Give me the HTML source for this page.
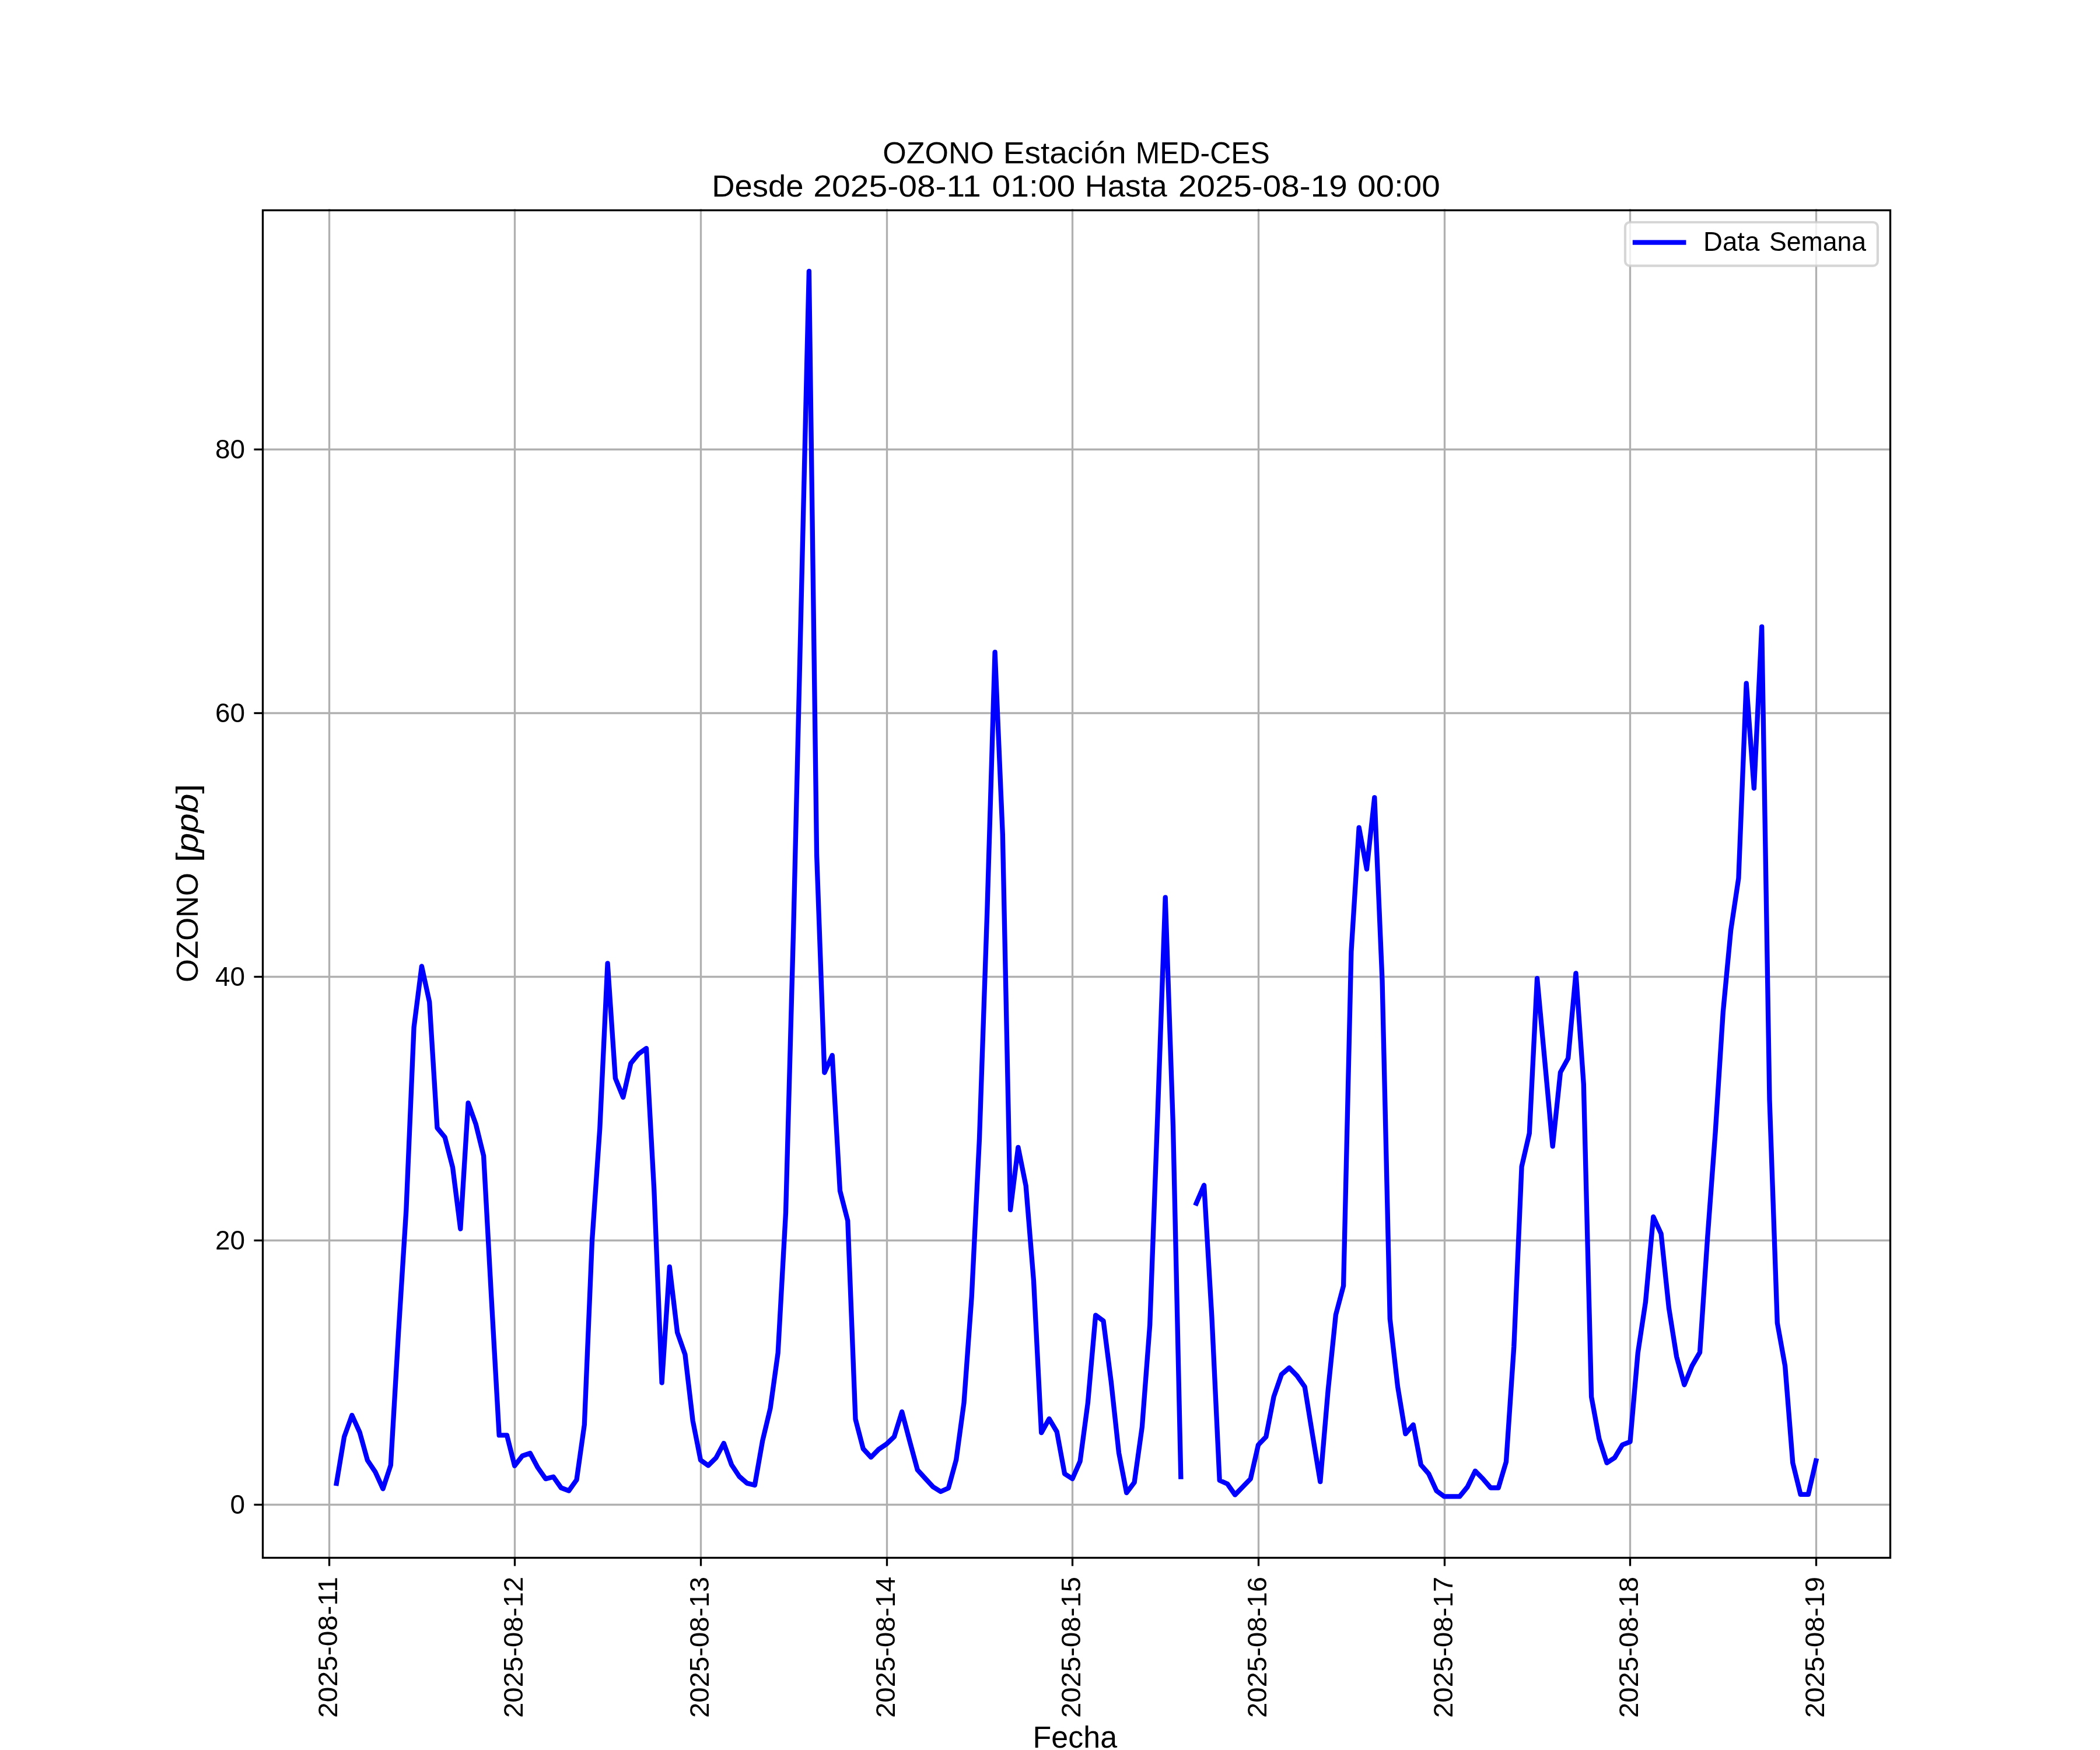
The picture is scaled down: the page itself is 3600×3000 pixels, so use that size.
<!DOCTYPE html>
<html><head><meta charset="utf-8"><style>
html,body{margin:0;padding:0;background:#fff;}
body{width:3600px;height:3000px;overflow:hidden;}
svg{display:block;will-change:transform;}
.g{stroke:#b0b0b0;stroke-width:3.333;stroke-linecap:square;}
.t{stroke:#000;stroke-width:3.333;stroke-linecap:butt;}
.fr{fill:none;stroke:#000;stroke-width:3.333;stroke-linejoin:miter;}
.ln{fill:none;stroke:#0000ff;stroke-width:8.333;stroke-linejoin:round;stroke-linecap:square;}
.lnl{stroke:#0000ff;stroke-width:8.333;stroke-linecap:square;}
.lg{fill:#ffffff;fill-opacity:0.8;stroke:#cccccc;stroke-opacity:0.8;stroke-width:4.167;}
text{font-family:"Liberation Sans",sans-serif;fill:#000;}
.tk{font-size:46.5px;}
.tl{font-size:51px;}
</style></head><body>
<svg width="3600" height="3000" viewBox="0 0 3600 3000">
<rect x="0" y="0" width="3600" height="3000" fill="#fff"/>
<line x1="564.50" y1="360" x2="564.50" y2="2670" class="g"/>
<line x1="882.50" y1="360" x2="882.50" y2="2670" class="g"/>
<line x1="1201.50" y1="360" x2="1201.50" y2="2670" class="g"/>
<line x1="1520.50" y1="360" x2="1520.50" y2="2670" class="g"/>
<line x1="1838.50" y1="360" x2="1838.50" y2="2670" class="g"/>
<line x1="2157.50" y1="360" x2="2157.50" y2="2670" class="g"/>
<line x1="2476.50" y1="360" x2="2476.50" y2="2670" class="g"/>
<line x1="2794.50" y1="360" x2="2794.50" y2="2670" class="g"/>
<line x1="3113.50" y1="360" x2="3113.50" y2="2670" class="g"/>
<line x1="450" y1="2579.50" x2="3240" y2="2579.50" class="g"/>
<line x1="450" y1="2126.50" x2="3240" y2="2126.50" class="g"/>
<line x1="450" y1="1674.50" x2="3240" y2="1674.50" class="g"/>
<line x1="450" y1="1222.50" x2="3240" y2="1222.50" class="g"/>
<line x1="450" y1="770.50" x2="3240" y2="770.50" class="g"/>
<path d="M576.8 2543.0 L590.1 2463.1 L603.4 2426.1 L616.7 2455.5 L629.9 2503.2 L643.2 2523.1 L656.5 2552.2 L669.8 2511.8 L683.1 2285.0 L696.3 2075.0 L709.6 1761.1 L722.9 1656.5 L736.2 1717.6 L749.5 1933.5 L762.7 1949.7 L776.0 2001.1 L789.3 2106.6 L802.6 1890.7 L815.8 1927.4 L829.1 1981.5 L842.4 2224.8 L855.7 2460.4 L869.0 2460.4 L882.2 2512.8 L895.5 2495.7 L908.8 2491.2 L922.1 2516.2 L935.4 2535.1 L948.6 2531.7 L961.9 2550.5 L975.2 2555.6 L988.5 2536.8 L1001.8 2442.5 L1015.0 2127.1 L1028.3 1934.2 L1041.6 1651.4 L1054.9 1848.5 L1068.2 1881.1 L1081.4 1822.8 L1094.7 1806.7 L1108.0 1797.1 L1121.3 2040.0 L1134.6 2370.5 L1147.8 2171.7 L1161.1 2284.1 L1174.4 2321.8 L1187.7 2435.7 L1201.0 2503.0 L1214.2 2512.3 L1227.5 2499.1 L1240.8 2474.1 L1254.1 2511.0 L1267.3 2531.0 L1280.6 2542.6 L1293.9 2546.0 L1307.2 2470.0 L1320.5 2414.4 L1333.7 2319.1 L1347.0 2079.1 L1360.3 1590.0 L1373.6 1030.0 L1386.9 465.0 L1400.1 1466.0 L1413.4 1838.8 L1426.7 1809.1 L1440.0 2041.4 L1453.3 2092.8 L1466.5 2432.9 L1479.8 2483.7 L1493.1 2498.1 L1506.4 2484.5 L1519.7 2475.5 L1532.9 2463.0 L1546.2 2420.2 L1559.5 2470.6 L1572.8 2519.7 L1586.1 2534.4 L1599.3 2548.7 L1612.6 2557.0 L1625.9 2551.0 L1639.2 2502.5 L1652.5 2404.8 L1665.7 2223.1 L1679.0 1952.0 L1692.3 1562.0 L1705.6 1118.0 L1718.8 1430.0 L1732.1 2074.0 L1745.4 1966.8 L1758.7 2032.9 L1772.0 2195.7 L1785.2 2456.2 L1798.5 2432.2 L1811.8 2454.5 L1825.1 2526.5 L1838.4 2535.1 L1851.6 2505.0 L1864.9 2404.8 L1878.2 2254.7 L1891.5 2264.3 L1904.8 2368.8 L1918.0 2490.5 L1931.3 2559.1 L1944.6 2541.3 L1957.9 2446.0 L1971.2 2271.1 L1984.4 1914.0 L1997.7 1538.3 L2011.0 1930.0 L2024.3 2531.6 M2050.8 2062.7 L2064.1 2031.8 L2077.4 2257.4 L2090.7 2537.8 L2104.0 2543.7 L2117.2 2562.5 L2130.5 2548.8 L2143.8 2535.1 L2157.1 2476.8 L2170.3 2463.1 L2183.6 2394.5 L2196.9 2356.1 L2210.2 2344.8 L2223.5 2358.5 L2236.7 2377.4 L2250.0 2459.7 L2263.3 2540.2 L2276.6 2384.2 L2289.9 2254.0 L2303.1 2204.3 L2316.4 1631.4 L2329.7 1418.6 L2343.0 1490.0 L2356.3 1367.1 L2369.5 1680.0 L2382.8 2260.8 L2396.1 2377.4 L2409.4 2458.0 L2422.7 2442.5 L2435.9 2511.1 L2449.2 2526.5 L2462.5 2555.6 L2475.8 2565.3 L2489.1 2565.3 L2502.3 2565.3 L2515.6 2549.0 L2528.9 2521.7 L2542.2 2535.1 L2555.4 2550.5 L2568.7 2550.5 L2582.0 2505.9 L2595.3 2308.8 L2608.6 2000.0 L2621.8 1942.8 L2635.1 1677.1 L2648.4 1821.0 L2661.7 1965.1 L2675.0 1838.2 L2688.2 1814.2 L2701.5 1668.5 L2714.8 1858.8 L2728.1 2394.5 L2741.4 2466.5 L2754.6 2507.7 L2767.9 2499.1 L2781.2 2476.8 L2794.5 2471.7 L2807.8 2319.1 L2821.0 2231.7 L2834.3 2086.0 L2847.6 2115.1 L2860.9 2242.0 L2874.2 2326.0 L2887.4 2374.0 L2900.7 2341.4 L2914.0 2318.4 L2927.3 2120.0 L2940.6 1941.1 L2953.8 1735.4 L2967.1 1594.8 L2980.4 1505.7 L2993.7 1171.4 L3006.9 1351.4 L3020.2 1074.3 L3033.5 1885.0 L3046.8 2267.7 L3060.1 2341.4 L3073.3 2507.7 L3086.6 2561.8 L3099.9 2561.8 L3113.2 2504.2" class="ln"/>
<rect x="2786.0" y="381.0" width="432.9" height="74.7" rx="8.0" ry="8.0" class="lg"/>
<line x1="2803.0" y1="415.7" x2="2886.3" y2="415.7" class="lnl"/>
<rect x="450.5" y="360.5" width="2790" height="2310" class="fr"/>
<line x1="564.50" y1="2670" x2="564.50" y2="2684.58" class="t"/>
<text transform="translate(577.60,2945) rotate(-90)" class="tk" textLength="242" lengthAdjust="spacingAndGlyphs">2025-08-11</text>
<line x1="882.50" y1="2670" x2="882.50" y2="2684.58" class="t"/>
<text transform="translate(895.60,2945) rotate(-90)" class="tk" textLength="242" lengthAdjust="spacingAndGlyphs">2025-08-12</text>
<line x1="1201.50" y1="2670" x2="1201.50" y2="2684.58" class="t"/>
<text transform="translate(1214.60,2945) rotate(-90)" class="tk" textLength="242" lengthAdjust="spacingAndGlyphs">2025-08-13</text>
<line x1="1520.50" y1="2670" x2="1520.50" y2="2684.58" class="t"/>
<text transform="translate(1533.60,2945) rotate(-90)" class="tk" textLength="242" lengthAdjust="spacingAndGlyphs">2025-08-14</text>
<line x1="1838.50" y1="2670" x2="1838.50" y2="2684.58" class="t"/>
<text transform="translate(1851.60,2945) rotate(-90)" class="tk" textLength="242" lengthAdjust="spacingAndGlyphs">2025-08-15</text>
<line x1="2157.50" y1="2670" x2="2157.50" y2="2684.58" class="t"/>
<text transform="translate(2170.60,2945) rotate(-90)" class="tk" textLength="242" lengthAdjust="spacingAndGlyphs">2025-08-16</text>
<line x1="2476.50" y1="2670" x2="2476.50" y2="2684.58" class="t"/>
<text transform="translate(2489.60,2945) rotate(-90)" class="tk" textLength="242" lengthAdjust="spacingAndGlyphs">2025-08-17</text>
<line x1="2794.50" y1="2670" x2="2794.50" y2="2684.58" class="t"/>
<text transform="translate(2807.60,2945) rotate(-90)" class="tk" textLength="242" lengthAdjust="spacingAndGlyphs">2025-08-18</text>
<line x1="3113.50" y1="2670" x2="3113.50" y2="2684.58" class="t"/>
<text transform="translate(3126.60,2945) rotate(-90)" class="tk" textLength="242" lengthAdjust="spacingAndGlyphs">2025-08-19</text>
<line x1="450" y1="2579.50" x2="435.42" y2="2579.50" class="t"/>
<text x="420.0" y="2595.10" class="tk" text-anchor="end" textLength="25.5" lengthAdjust="spacingAndGlyphs">0</text>
<line x1="450" y1="2126.50" x2="435.42" y2="2126.50" class="t"/>
<text x="420.0" y="2142.10" class="tk" text-anchor="end" textLength="51.0" lengthAdjust="spacingAndGlyphs">20</text>
<line x1="450" y1="1674.50" x2="435.42" y2="1674.50" class="t"/>
<text x="420.0" y="1690.10" class="tk" text-anchor="end" textLength="51.0" lengthAdjust="spacingAndGlyphs">40</text>
<line x1="450" y1="1222.50" x2="435.42" y2="1222.50" class="t"/>
<text x="420.0" y="1238.10" class="tk" text-anchor="end" textLength="51.0" lengthAdjust="spacingAndGlyphs">60</text>
<line x1="450" y1="770.50" x2="435.42" y2="770.50" class="t"/>
<text x="420.0" y="786.10" class="tk" text-anchor="end" textLength="51.0" lengthAdjust="spacingAndGlyphs">80</text>
<text x="1513.20" y="280.3" class="tl" textLength="190.86" lengthAdjust="spacingAndGlyphs">OZONO</text>
<text x="1719.80" y="280.3" class="tl" textLength="210.85" lengthAdjust="spacingAndGlyphs">Estación</text>
<text x="1946.70" y="280.3" class="tl" textLength="230.20" lengthAdjust="spacingAndGlyphs">MED-CES</text>
<text x="1220.30" y="336.5" class="tl" textLength="157.31" lengthAdjust="spacingAndGlyphs">Desde</text>
<text x="1394.30" y="336.5" class="tl" textLength="287.53" lengthAdjust="spacingAndGlyphs">2025-08-11</text>
<text x="1700.50" y="336.5" class="tl" textLength="142.72" lengthAdjust="spacingAndGlyphs">01:00</text>
<text x="1859.80" y="336.5" class="tl" textLength="140.93" lengthAdjust="spacingAndGlyphs">Hasta</text>
<text x="2020.00" y="336.5" class="tl" textLength="289.73" lengthAdjust="spacingAndGlyphs">2025-08-19</text>
<text x="2326.90" y="336.5" class="tl" textLength="142.01" lengthAdjust="spacingAndGlyphs">00:00</text>
<text x="2920.00" y="430.2" class="tk" textLength="96.22" lengthAdjust="spacingAndGlyphs">Data</text>
<text x="3033.00" y="430.2" class="tk" textLength="166.18" lengthAdjust="spacingAndGlyphs">Semana</text>
<text x="1770.60" y="2996" class="tl" textLength="144.45" lengthAdjust="spacingAndGlyphs">Fecha</text>
<text transform="translate(338.6,1684) rotate(-90)" class="tl" textLength="188" lengthAdjust="spacingAndGlyphs">OZONO</text>
<text transform="translate(338.6,1478) rotate(-90)" class="tl" textLength="134" lengthAdjust="spacingAndGlyphs">[<tspan font-style="italic">ppb</tspan>]</text>
</svg>
</body></html>
